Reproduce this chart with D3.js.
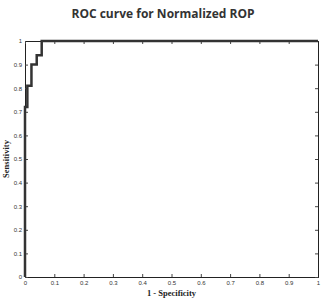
<!DOCTYPE html>
<html>
<head>
<meta charset="utf-8">
<script src="https://cdn.jsdelivr.net/npm/d3@7"></script>
<style>
  body { margin: 0; background: #fff; }
  svg { display: block; }
</style>
</head>
<body>
<div id="chart"></div>
<script>
// ROC curve points
const fpr = [0, 0, 0.008, 0.008, 0.022, 0.022, 0.04, 0.04, 0.057, 0.057, 1];
const tpr = [0, 0.72, 0.72, 0.81, 0.81, 0.9, 0.9, 0.94, 0.94, 1, 1];
const xTicks = [0, 0.1, 0.2, 0.3, 0.4, 0.5, 0.6, 0.7, 0.8, 0.9, 1];
const yTicks = [0, 0.1, 0.2, 0.3, 0.4, 0.5, 0.6, 0.7, 0.8, 0.9, 1];

const width = 327, height = 300;
const margin = {top: 41, right: 9, bottom: 23, left: 25};

const svg = d3.select('#chart').append('svg')
    .attr('width', width)
    .attr('height', height);

const x = d3.scaleLinear().domain([0, 1]).range([margin.left, width - margin.right]);
const y = d3.scaleLinear().domain([0, 1]).range([height - margin.bottom, margin.top]);

const fmt = d => d === 0 || d === 1 ? String(d) : d3.format('.1f')(d);

// axes with inward ticks (matlab style)
svg.append('g')
    .attr('transform', `translate(0,${y(0)})`)
    .call(d3.axisBottom(x).tickValues(xTicks).tickSize(-3).tickPadding(4).tickFormat(fmt));
svg.append('g')
    .attr('transform', `translate(${x(0)},0)`)
    .call(d3.axisLeft(y).tickValues(yTicks).tickSize(-3).tickPadding(3).tickFormat(fmt));
svg.append('g')
    .attr('transform', `translate(0,${y(1)})`)
    .call(d3.axisTop(x).tickValues(xTicks).tickSize(-3).tickFormat(''));
svg.append('g')
    .attr('transform', `translate(${x(1)},0)`)
    .call(d3.axisRight(y).tickValues(yTicks).tickSize(-3).tickFormat(''));

svg.selectAll('.domain').attr('stroke', '#222').attr('stroke-width', 1);
svg.selectAll('.tick line').attr('stroke', '#444');
svg.selectAll('.tick text')
    .attr('font-family', 'Liberation Sans, Arial, sans-serif')
    .attr('font-size', 6)
    .attr('fill', '#333');

// curve
const line = d3.line().x((d, i) => x(fpr[i])).y(d => y(d));
svg.append('path')
    .datum(tpr)
    .attr('d', line)
    .attr('fill', 'none')
    .attr('stroke', '#333')
    .attr('stroke-width', 2.5);

// title
svg.append('text')
    .attr('x', 163)
    .attr('y', 18)
    .attr('text-anchor', 'middle')
    .attr('font-family', 'Open Sans, sans-serif')
    .attr('font-weight', 'bold')
    .attr('font-size', 12)
    .attr('fill', '#333')
    .text('ROC curve for Normalized ROP');

// axis labels
svg.append('text')
    .attr('x', (x(0) + x(1)) / 2)
    .attr('y', 296)
    .attr('text-anchor', 'middle')
    .attr('font-family', 'Liberation Serif, serif')
    .attr('font-weight', 'bold')
    .attr('font-size', 8.5)
    .attr('fill', '#222')
    .text('1 - Specificity');

svg.append('text')
    .attr('transform', `translate(9,${(y(0) + y(1)) / 2}) rotate(-90)`)
    .attr('text-anchor', 'middle')
    .attr('font-family', 'Liberation Serif, serif')
    .attr('font-weight', 'bold')
    .attr('font-size', 8.5)
    .attr('fill', '#222')
    .text('Sensitivity');
</script>
</body>
</html>
